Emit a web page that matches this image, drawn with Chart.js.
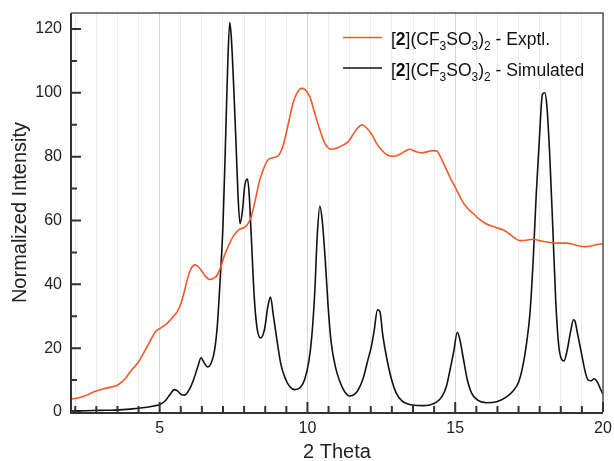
<!DOCTYPE html>
<html>
<head>
<meta charset="utf-8">
<script src="https://cdn.jsdelivr.net/npm/chart.js@4"></script>
<style>
  body { margin: 0; background: #fff; }
  canvas { display: block; }
</style>
</head>
<body>
<canvas id="chart" width="614" height="461"></canvas>
<script>
// data
var exptlX = [2.0, 2.2, 2.44, 2.65, 2.83, 3.1, 3.35, 3.57, 3.74, 3.88, 4.02, 4.3, 4.58, 4.75, 4.87, 5.03, 5.2, 5.32, 5.45, 5.6,
  5.72, 5.82, 5.92, 6.0, 6.1, 6.2, 6.3, 6.4, 6.55, 6.7, 6.85, 6.95, 7.05, 7.18, 7.35, 7.52, 7.7, 7.86, 7.95, 8.08,
  8.2, 8.39, 8.55, 8.67, 8.85, 9.01, 9.12, 9.23, 9.37, 9.51, 9.65, 9.8, 9.92, 10.08, 10.25, 10.42, 10.6, 10.81, 11.0, 11.2,
  11.38, 11.55, 11.7, 11.85, 11.98, 12.17, 12.35, 12.51, 12.7, 12.9, 13.1, 13.3, 13.47, 13.65, 13.85, 14.05, 14.22, 14.37, 14.5, 14.6,
  14.71, 14.88, 15.05, 15.22, 15.4, 15.61, 15.8, 16.06, 16.35, 16.63, 16.8, 17.0, 17.19, 17.4, 17.64, 17.9, 18.21, 18.5, 18.77, 19.0,
  19.2, 19.39, 19.6, 19.8, 20.0];
var exptlY = [4.1, 4.3, 4.9, 5.8, 6.5, 7.3, 7.8, 8.4, 9.6, 11, 12.8, 15.9, 20.6, 23.5, 25.3, 26.3, 27.4, 28.4, 29.8, 31.5,
  34, 37.2, 41, 43.5, 45.5, 46.1, 45.5, 44.5, 42.5, 41.5, 42, 43, 45, 48.7, 52.5, 55.5, 57.2, 57.8, 58.5, 60.7,
  65, 72.8, 77, 79, 79.7, 80.3, 82, 85.3, 91, 96.7, 100, 101.4, 101, 98.8, 93.5, 88.4, 84, 82.3, 82.7, 83.6,
  84.7, 87, 89, 90, 89.2, 87, 84, 82.1, 80.5, 80.1, 80.6, 81.7, 82.3, 81.6, 81.2, 81.5, 81.9, 81.8, 80, 78,
  75.8, 72.5, 69.5, 66.4, 64, 62.2, 60.5, 58.9, 57.9, 57, 56, 54.6, 53.7, 53.8, 54.1, 53.6, 53.1, 52.9, 52.9, 52.5,
  52, 51.8, 52, 52.5, 52.7];

var simX = [2.0, 2.5, 3.0, 3.5, 4.0, 4.5, 4.8, 5.0, 5.2, 5.35, 5.5, 5.6, 5.75, 5.85, 6.0, 6.15, 6.3, 6.4, 6.5, 6.62,
  6.75, 6.86, 6.95, 7.05, 7.14, 7.22, 7.3, 7.37, 7.42, 7.5, 7.58, 7.65, 7.72, 7.8, 7.88, 7.97, 8.03, 8.1, 8.2, 8.3,
  8.42, 8.55, 8.66, 8.75, 8.85, 8.95, 9.1, 9.25, 9.4, 9.57, 9.75, 9.9, 10.05, 10.15, 10.25, 10.33, 10.42, 10.5, 10.6, 10.7,
  10.8, 10.95, 11.1, 11.25, 11.43, 11.6, 11.75, 11.9, 12.05, 12.15, 12.25, 12.37, 12.45, 12.55, 12.68, 12.85, 13.0, 13.2, 13.4, 13.6,
  13.9, 14.14, 14.35, 14.55, 14.7, 14.82, 14.95, 15.07, 15.15, 15.27, 15.4, 15.55, 15.75, 16.06, 16.4, 16.7, 16.95, 17.15, 17.3, 17.42,
  17.53, 17.64, 17.74, 17.85, 17.95, 18.03, 18.1, 18.2, 18.3, 18.4, 18.5, 18.6, 18.68, 18.78, 18.9, 19.0, 19.05, 19.15, 19.28, 19.4,
  19.5, 19.6, 19.7, 19.8, 19.9, 20.0];
var simY = [0.3, 0.4, 0.5, 0.6, 0.9, 1.4, 1.9, 2.3, 3.6, 5.5, 7.0, 6.6, 5.4, 5.3, 7.0, 10.2, 14.5, 17.0, 15.5, 14.1,
  15.5, 19.5, 27, 42, 58, 82, 108, 122, 118, 103, 85, 68, 59, 63, 71, 73, 68, 55, 36, 26,
  23.2, 26, 33, 36, 30, 23.7, 15, 10.5, 8, 7, 7.6, 10, 16, 24, 38, 55, 64.5, 60, 48, 33,
  22, 14, 9.5, 6.5, 5.0, 5.6, 7.5, 11, 16.5, 20, 25, 32, 31.5, 24, 17, 10, 6, 3.5, 2.5, 2.1,
  2.0, 2.2, 3.0, 4.8, 8, 13, 19, 25, 23, 17, 10.5, 6, 3.8, 2.9, 3.2, 4.5, 6.5, 9.5, 15, 22,
  31, 48, 68, 86, 99.5, 100, 96, 80, 58, 35, 21, 16.5, 16, 19, 25, 28.9, 28.5, 24, 18, 12.5,
  10, 9.8, 10.4, 9.5, 7.5, 5.5];

var xTickLabels = [5, 10, 15, 20];
var xMinorStep = 5 / 7;
var yTickLabels = [0, 20, 40, 60, 80, 100, 120];
var yMinorTicks = [10, 30, 50, 70, 90, 110];

var FONT = '"Liberation Sans", Arial, sans-serif';

// minor x positions (grid lines + small ticks)
var xGridTicks = [];
for (var k = -4; k <= 21; k++) {
    var v = 5 + k * xMinorStep;
    if (v > 2.01 && v <= 20.001) xGridTicks.push(Math.round(v * 1e6) / 1e6);
}

function isMajorX(v) {
    return xTickLabels.indexOf(Math.round(v)) >= 0 && Math.abs(v - Math.round(v)) < 1e-4;
}

function pts(xs, ys) {
    return xs.map(function (x, i) { return {x: x, y: ys[i]}; });
}

function noPad(s) {
    s.paddingTop = 0; s.paddingBottom = 0; s.paddingLeft = 0; s.paddingRight = 0;
}

var framePlugin = {
    id: 'frame',
    afterDraw: function (chart) {
        var ctx = chart.ctx, a = chart.chartArea;
        var xs = chart.scales.x, ys = chart.scales.y;
        ctx.save();
        // top/right border
        ctx.strokeStyle = '#555';
        ctx.lineWidth = 1.5;
        ctx.beginPath();
        ctx.moveTo(a.left, a.top); ctx.lineTo(a.right, a.top); ctx.lineTo(a.right, a.bottom);
        ctx.stroke();
        // axis lines
        ctx.strokeStyle = '#333';
        ctx.lineWidth = 2;
        ctx.beginPath();
        ctx.moveTo(a.left, a.top); ctx.lineTo(a.left, a.bottom + 1); ctx.lineTo(a.right, a.bottom + 1);
        ctx.stroke();
        // inward tick marks
        ctx.lineWidth = 2;
        ctx.beginPath();
        yTickLabels.forEach(function (v) {
            var p = ys.getPixelForValue(v);
            ctx.moveTo(a.left, p); ctx.lineTo(a.left + 10, p);
        });
        yMinorTicks.forEach(function (v) {
            var p = ys.getPixelForValue(v);
            ctx.moveTo(a.left, p); ctx.lineTo(a.left + 6, p);
        });
        xGridTicks.forEach(function (v) {
            var p = xs.getPixelForValue(v);
            var len = isMajorX(v) ? 10 : 6;
            ctx.moveTo(p, a.bottom); ctx.lineTo(p, a.bottom - len);
        });
        ctx.stroke();

        // legend with subscripts
        var entries = [
            {color: '#ef5a28', name: ' - Exptl.', y: 37.5},
            {color: '#111', name: ' - Simulated', y: 68}
        ];
        ctx.textBaseline = 'alphabetic';
        ctx.fillStyle = '#111';
        entries.forEach(function (e) {
            ctx.strokeStyle = e.color;
            ctx.lineWidth = 1.5;
            ctx.beginPath();
            ctx.moveTo(343, e.y); ctx.lineTo(382, e.y);
            ctx.stroke();
            var base = e.y + 7.5;
            var parts = [
                ['[', 'n'], ['2', 'b'], ['](CF', 'n'], ['3', 's'], ['SO', 'n'], ['3', 's'], [')', 'n'], ['2', 's'], [e.name, 'n']
            ];
            var x = 391;
            parts.forEach(function (p) {
                if (p[1] === 'b') ctx.font = 'bold 17.5px ' + FONT;
                else if (p[1] === 's') ctx.font = '12px ' + FONT;
                else ctx.font = '17.5px ' + FONT;
                ctx.fillText(p[0], x, p[1] === 's' ? base + 5 : base);
                x += ctx.measureText(p[0]).width;
            });
        });
        ctx.restore();
    }
};

new Chart(document.getElementById('chart'), {
    type: 'line',
    data: {
        datasets: [{
            label: 'Exptl.',
            data: pts(exptlX, exptlY),
            borderColor: '#ef5a28',
            borderWidth: 1.6,
            pointRadius: 0,
            cubicInterpolationMode: 'monotone',
            fill: false
        }, {
            label: 'Simulated',
            data: pts(simX, simY),
            borderColor: '#111',
            borderWidth: 1.6,
            pointRadius: 0,
            cubicInterpolationMode: 'monotone',
            fill: false
        }]
    },
    options: {
        responsive: false,
        animation: false,
        devicePixelRatio: 1,
        layout: {padding: {top: 13, right: 11, left: 0, bottom: 0}},
        plugins: {legend: {display: false}, tooltip: {enabled: false}},
        scales: {
            x: {
                type: 'linear',
                min: 2,
                max: 20,
                afterBuildTicks: function (s) {
                    s.ticks = xGridTicks.map(function (v) { return {value: v}; });
                },
                afterFit: function (s) { s.height = 49; noPad(s); },
                grid: {
                    drawTicks: false,
                    lineWidth: 1,
                    color: function (c) {
                        if (!c.tick) return '#eee';
                        return isMajorX(c.tick.value) ? '#d6d6d6' : '#ececec';
                    }
                },
                border: {display: false},
                ticks: {
                    autoSkip: false,
                    maxRotation: 0,
                    padding: 7,
                    color: '#222',
                    font: {family: FONT, size: 16},
                    callback: function (v) { return isMajorX(v) ? String(Math.round(v)) : ''; }
                },
                title: {
                    display: true,
                    text: '2 Theta',
                    color: '#222',
                    font: {family: FONT, size: 20, lineHeight: 0.9},
                    padding: {top: 0, bottom: 0}
                }
            },
            y: {
                min: 0,
                max: 125,
                afterBuildTicks: function (s) {
                    s.ticks = yTickLabels.map(function (v) { return {value: v}; });
                },
                afterFit: function (s) { s.width = 71; noPad(s); },
                grid: {display: false, drawTicks: false},
                border: {display: false},
                ticks: {
                    padding: 9,
                    color: '#222',
                    font: {family: FONT, size: 16}
                },
                title: {
                    display: true,
                    text: 'Normalized Intensity',
                    color: '#222',
                    font: {family: FONT, size: 20, lineHeight: 1.2},
                    padding: {top: 8, bottom: 0}
                }
            }
        }
    },
    plugins: [framePlugin]
});
</script>
</body>
</html>
